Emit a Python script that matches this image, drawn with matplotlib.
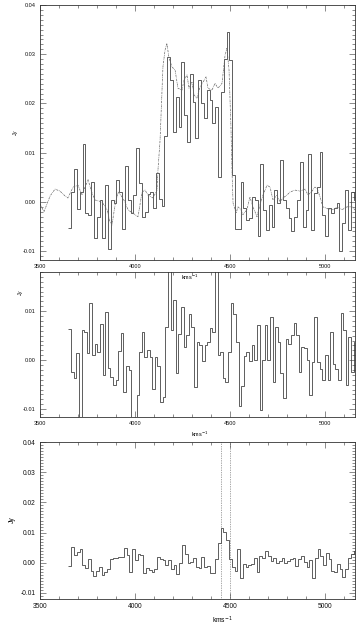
import numpy as np
import matplotlib.pyplot as plt
from matplotlib.ticker import MultipleLocator, FormatStrFormatter

# top panel: observed spectrum (steps) and model (dash-dot), Jy vs km/s
flux_top = [-0.0053, 0.0021, 0.0066, -0.0015, 0.0021, 0.0118, -0.0023, -0.0026, 0.0041, -0.0074,
            -0.0030, 0.0004, -0.0074, 0.0034, -0.0096, 0.0004, -0.0003, 0.0045, 0.0021, -0.0055,
            0.0072, 0.0004, -0.0023, 0.0014, 0.0109, 0.0038, -0.0030, -0.0020, 0.0016, 0.0021,
            -0.0013, 0.0058, 0.0005, -0.0008, 0.0134, 0.0295, 0.0247, 0.0143, 0.0214, 0.0153,
            0.0284, 0.0176, 0.0122, 0.0260, 0.0203, 0.0129, 0.0247, 0.0200, 0.0170, 0.0227,
            0.0207, 0.0160, 0.0193, 0.0051, 0.0224, 0.0290, 0.0345, 0.0288, 0.0055, -0.0055,
            -0.0055, 0.0040, -0.0013, -0.0036, -0.0033, 0.0010, 0.0004, -0.0070, 0.0077, -0.0016,
            -0.0057, -0.0006, -0.0050, 0.0024, -0.0003, 0.0085, 0.0004, -0.0013, -0.0033, -0.0060,
            -0.0030, 0.0004, 0.0082, -0.0050, -0.0016, 0.0097, -0.0057, 0.0018, 0.0031, 0.0102,
            -0.0026, -0.0070, -0.0013, -0.0022, -0.0013, -0.0003, -0.0100, -0.0043, 0.0024, -0.0057,
            0.0021, 0.0004]

model_vel = [3500, 3521, 3553, 3579, 3605, 3632, 3647, 3674, 3700, 3721,
             3737, 3753, 3774, 3789, 3826, 3853, 3868, 3879, 3895, 3911,
             3932, 3947, 3963, 3989, 4016, 4037, 4053, 4068, 4095, 4116,
             4121, 4132, 4147, 4158, 4168, 4179, 4195, 4211, 4226, 4247,
             4258, 4274, 4284, 4300, 4311, 4326, 4342, 4358, 4374, 4384,
             4405, 4421, 4437, 4458, 4474, 4484, 4495, 4505, 4511, 4516,
             4532, 4542, 4558, 4568, 4589, 4605, 4621, 4642, 4658, 4674,
             4695, 4711, 4726, 4747, 4763, 4779, 4800, 4816, 4842, 4868,
             4895, 4911, 4932, 4947, 4958, 4974, 4989, 5016, 5042, 5068,
             5089, 5116, 5142, 5168]
model_flux = [-0.0004, -0.0020, 0.0012, 0.0026, 0.0022, 0.0012, 0.0008, 0.0030, 0.0034, 0.0014,
              0.0030, 0.0045, 0.0018, 0.0004, 0.0000, -0.0016, -0.0040, -0.0047, -0.0006, 0.0020,
              0.0010, 0.0000, -0.0016, -0.0023, -0.0030, 0.0020, 0.0024, 0.0014, 0.0008, 0.0024,
              0.0065, 0.0126, 0.0274, 0.0308, 0.0322, 0.0292, 0.0274, 0.0268, 0.0231, 0.0227,
              0.0247, 0.0258, 0.0231, 0.0243, 0.0217, 0.0211, 0.0233, 0.0243, 0.0254, 0.0231,
              0.0227, 0.0241, 0.0231, 0.0241, 0.0298, 0.0312, 0.0268, 0.0152, 0.0059, -0.0002,
              -0.0023, -0.0010, -0.0016, -0.0026, -0.0016, 0.0010, -0.0010, -0.0030, -0.0006, 0.0014,
              0.0034, 0.0030, 0.0004, 0.0014, 0.0000, 0.0008, 0.0014, 0.0020, 0.0024, 0.0022,
              0.0026, 0.0014, 0.0022, 0.0030, 0.0028, 0.0010, -0.0010, -0.0014, -0.0016, -0.0010,
              -0.0016, -0.0010, -0.0010, -0.0020]

# middle panel: residual / noise spectrum
flux_mid = [0.0063, -0.0024, -0.0036, 0.0015, -0.0150, 0.0061, 0.0058, 0.0014, 0.0116, 0.0010,
            0.0034, 0.0017, 0.0073, -0.0031, 0.0099, -0.0015, -0.0034, -0.0051, -0.0041, 0.0018,
            0.0056, -0.0065, -0.0012, -0.0020, -0.0140, -0.0160, -0.0071, 0.0017, 0.0058, 0.0007,
            0.0020, 0.0007, -0.0058, 0.0007, -0.0012, -0.0085, -0.0075, 0.0067, 0.0200, 0.0061,
            0.0122, -0.0026, 0.0054, 0.0109, 0.0027, 0.0051, 0.0095, 0.0068, -0.0054, 0.0037,
            0.0031, -0.0002, 0.0031, 0.0037, 0.0065, 0.0058, 0.0200, 0.0010, 0.0017, -0.0037,
            -0.0044, 0.0017, 0.0116, 0.0095, 0.0037, -0.0094, -0.0053, 0.0008, 0.0017, -0.0002,
            0.0031, 0.0000, 0.0071, -0.0101, 0.0000, 0.0071, 0.0000, 0.0088, -0.0044, 0.0068,
            0.0037, -0.0027, -0.0078, 0.0044, 0.0034, 0.0051, 0.0075, 0.0051, -0.0024, 0.0027,
            0.0024, 0.0000, -0.0071, -0.0003, 0.0088, -0.0003, -0.0017, -0.0041, 0.0010, -0.0041,
            0.0058, -0.0007, -0.0017, -0.0041, 0.0097, 0.0061, -0.0051, 0.0048, -0.0024, 0.0037]

# bottom panel: weaker line, with two marked velocities
flux_bot = [-0.0010, 0.0053, 0.0027, 0.0036, 0.0045, -0.0009, -0.0017, 0.0013, -0.0026, -0.0043,
            -0.0028, -0.0015, -0.0040, -0.0031, -0.0020, 0.0013, 0.0016, 0.0017, 0.0019, 0.0019,
            0.0049, 0.0025, -0.0029, 0.0047, 0.0010, 0.0028, 0.0025, -0.0035, -0.0018, -0.0024,
            -0.0029, -0.0020, 0.0019, 0.0013, 0.0008, -0.0009, 0.0010, -0.0020, -0.0009, -0.0037,
            -0.0002, 0.0059, 0.0030, 0.0000, 0.0001, 0.0017, -0.0013, -0.0017, 0.0020, -0.0015,
            -0.0010, -0.0035, -0.0035, 0.0012, 0.0067, 0.0114, 0.0103, 0.0074, 0.0012, -0.0015,
            -0.0028, 0.0045, -0.0050, -0.0004, -0.0013, -0.0007, -0.0004, 0.0015, -0.0032, 0.0023,
            0.0015, 0.0039, 0.0023, 0.0007, 0.0015, -0.0002, 0.0007, 0.0017, -0.0002, 0.0007,
            0.0012, 0.0015, -0.0010, 0.0012, 0.0023, 0.0001, -0.0015, 0.0009, -0.0050, 0.0017,
            0.0045, 0.0023, -0.0007, 0.0034, 0.0012, -0.0026, -0.0032, -0.0004, -0.0021, -0.0048,
            -0.0021, 0.0017, 0.0028, 0.0039]
marked_vel = [4455, 4500]

vel_start, vel_end = 3650, 5165
x_range = (3500, 5158)

W, H = 358, 625
fig = plt.figure(figsize=(W / 100, H / 100), dpi=100)
plt.rcParams['font.family'] = ['Liberation Sans', 'DejaVu Sans']


def make_axes(top, bottom):
    # box given in pixels from the top of the image
    return fig.add_axes([40 / W, 1 - bottom / H, 315 / W, (bottom - top) / H])


def style(ax, ylim, fs):
    ax.set_xlim(*x_range)
    ax.set_ylim(*ylim)
    ax.xaxis.set_major_locator(MultipleLocator(500))
    ax.xaxis.set_minor_locator(MultipleLocator(100))
    ax.yaxis.set_major_locator(MultipleLocator(0.01))
    ax.yaxis.set_minor_locator(MultipleLocator(0.001))
    ax.yaxis.set_major_formatter(FormatStrFormatter('%.2f'))
    ax.tick_params(which='both', direction='in', top=True, right=True,
                   width=0.4, color='#333333', labelsize=fs, pad=3,
                   labelcolor='#111111')
    ax.tick_params(which='major', length=4)
    ax.tick_params(which='minor', length=2)
    for s in ax.spines.values():
        s.set_linewidth(0.6)
        s.set_color('#333333')


def steps(ax, flux):
    edges = np.linspace(vel_start, vel_end, len(flux) + 1)
    ax.stairs(flux, edges, baseline=None, color='#333333', lw=0.55)


fs_small, fs_big = 4.0, 4.8

ax1 = make_axes(5, 260)
steps(ax1, flux_top)
ax1.plot(model_vel, model_flux, color='#666666', lw=0.5, ls=(0, (3, 1.2, 1, 1.2)))
style(ax1, (-0.0118, 0.04), fs_small)

ax2 = make_axes(272, 417)
steps(ax2, flux_mid)
style(ax2, (-0.0116, 0.018), fs_small)

ax3 = make_axes(442, 599)
steps(ax3, flux_bot)
for v in marked_vel:
    ax3.axvline(v, color='#555555', lw=0.5, ls=(0, (1, 1.5)))
style(ax3, (-0.012, 0.04), fs_big)

# axis titles placed like the original
fig.text(190 / W, 1 - 277 / H, 'kms$^{-1}$', fontsize=fs_small, ha='center', va='center')
fig.text(200 / W, 1 - 434 / H, 'kms$^{-1}$', fontsize=fs_small, ha='center', va='center')
fig.text(222 / W, 1 - 620 / H, 'kms$^{-1}$', fontsize=fs_big, ha='center', va='center')
fig.text(15 / W, 1 - 132 / H, 'Jy', fontsize=fs_small, rotation=90, ha='center', va='center')
fig.text(20 / W, 1 - 292 / H, 'Jy', fontsize=fs_small, rotation=90, ha='center', va='center')
fig.text(12 / W, 1 - 520 / H, 'Jy', fontsize=fs_big, rotation=90, ha='center', va='center')

fig.savefig('out.png', dpi=100)
